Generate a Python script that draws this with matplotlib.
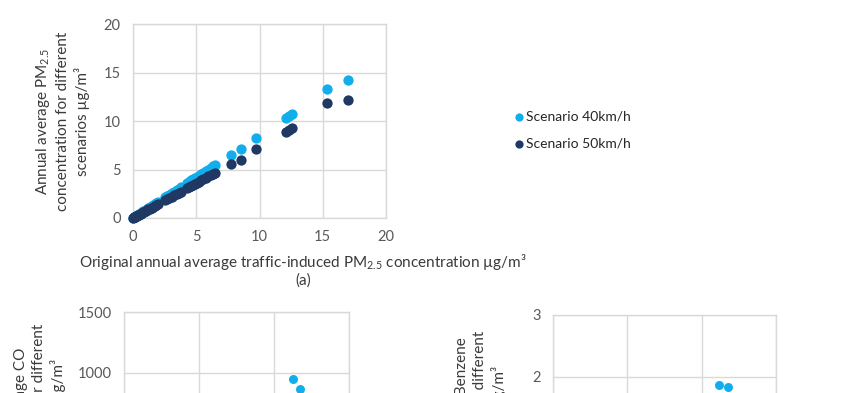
import matplotlib as mpl
import matplotlib.pyplot as plt

# panel (a): original traffic PM2.5 vs. the two speed scenarios (ug/m3)
orig_pm = [0.03, 0.08, 0.12, 0.18, 0.25, 0.32, 0.40, 0.48, 0.55, 0.63,
           0.72, 0.80, 0.90, 1.00, 1.10, 1.22, 1.35, 1.48, 1.60, 1.72,
           1.85, 1.98, 2.55, 2.70, 2.88, 3.05, 3.25, 3.45, 3.62, 3.78,
           4.30, 4.45, 4.60, 4.75, 4.90, 5.05, 5.20, 5.38, 5.55, 5.75,
           5.95, 6.15, 6.35, 6.48, 7.75, 8.54, 9.70, 12.10, 12.30, 12.54,
           15.31, 16.97]
pm_40 = [0.03, 0.07, 0.10, 0.15, 0.21, 0.27, 0.34, 0.40, 0.46, 0.53,
         0.61, 0.67, 0.76, 0.84, 0.92, 1.03, 1.13, 1.24, 1.35, 1.45,
         1.55, 1.66, 2.15, 2.27, 2.42, 2.56, 2.73, 2.90, 3.04, 3.18,
         3.61, 3.74, 3.87, 3.99, 4.12, 4.24, 4.37, 4.52, 4.66, 4.83,
         5.00, 5.17, 5.33, 5.43, 6.53, 7.11, 8.25, 10.28, 10.50, 10.69,
         13.33, 14.20]
pm_50 = [0.02, 0.06, 0.09, 0.13, 0.18, 0.23, 0.29, 0.35, 0.40, 0.45,
         0.52, 0.58, 0.65, 0.72, 0.79, 0.88, 0.97, 1.07, 1.15, 1.24,
         1.33, 1.43, 1.84, 1.94, 2.07, 2.20, 2.34, 2.48, 2.61, 2.72,
         3.10, 3.20, 3.31, 3.42, 3.53, 3.64, 3.74, 3.87, 4.00, 4.14,
         4.28, 4.43, 4.57, 4.60, 5.60, 5.98, 7.11, 8.90, 9.07, 9.24,
         11.90, 12.20]

# panels (b) and (c): only the top of each is visible in the crop
co_orig = [1127, 1173]
co_40 = [951, 869]
benz_orig = [2.23, 2.36]
benz_40 = [1.87, 1.84]

pm_ticks = [0, 5, 10, 15, 20]
co_ticks = [0, 500, 1000, 1500]
benz_ticks = [0, 1, 2, 3]

LIGHT = "#12AEEB"
DARK = "#1F3864"
GRID = "#D9D9D9"
TICK = "#595959"
TITLE = "#3A3A3A"

mpl.rcParams.update({
    "font.family": ["Lato", "DejaVu Sans"],
    "mathtext.fontset": "custom",
    "mathtext.rm": "Lato",
    "mathtext.default": "regular",
})


def excel_axes(ax, xticks, yticks, tick_size=10.5, show_x=True):
    ax.set_xlim(xticks[0], xticks[-1])
    ax.set_ylim(yticks[0], yticks[-1])
    ax.set_xticks(xticks)
    ax.set_yticks(yticks)
    ax.grid(True, color=GRID, lw=1.0)
    ax.set_axisbelow(True)
    for s in ax.spines.values():
        s.set_color(GRID)
        s.set_linewidth(1.0)
    ax.tick_params(length=0, labelsize=tick_size, colors=TICK, pad=9,
                   labelbottom=show_x)


fig = plt.figure(figsize=(8.5, 3.93), dpi=100)

# ---------------------------------------------------------------- (a)
ax = fig.add_axes([0.1565, 0.4453, 0.2976, 0.4936])
excel_axes(ax, pm_ticks, pm_ticks)
h40 = ax.scatter(orig_pm, pm_40, s=55, color=LIGHT, lw=0, zorder=3,
                 label="Scenario 40km/h", clip_on=False)
h50 = ax.scatter(orig_pm, pm_50, s=55, color=DARK, lw=0, zorder=4,
                 label="Scenario 50km/h", clip_on=False)

fig.text(62 / 850, 1 - 121 / 393,
         "Annual average PM$_{2.5}$\nconcentration for different\nscenarios µg/m³",
         rotation=90, ha="center", va="center", multialignment="center",
         fontsize=11, color=TITLE, linespacing=1.32)
fig.text(303 / 850, 1 - 262 / 393,
         "Original annual average traffic-induced PM$_{2.5}$ concentration µg/m³",
         ha="center", va="center", fontsize=11, color=TITLE)
fig.text(303 / 850, 1 - 281 / 393, "(a)", ha="center", va="center",
         fontsize=11, color=TITLE)

fig.legend(handles=[h40, h50], loc="center left",
           bbox_to_anchor=(501 / 850, 1 - 130 / 393), frameon=False,
           fontsize=10, handletextpad=0.1, handlelength=0.8,
           labelspacing=1.05, markerscale=0.8, labelcolor="#262626")

# ---------------------------------------------------------------- (b)
ax = fig.add_axes([124 / 850, (393 - 495) / 393, 225 / 850, 183 / 393])
excel_axes(ax, co_ticks, co_ticks, show_x=False)
ax.scatter(co_orig, co_40, s=42, color=LIGHT, lw=0, zorder=3)
fig.text(40 / 850, 1 - 413 / 393,
         "Annual average CO\nconcentration for different\nscenarios µg/m³",
         rotation=90, ha="center", va="center", multialignment="center",
         fontsize=11, color=TITLE, linespacing=1.32)

# ---------------------------------------------------------------- (c)
ax = fig.add_axes([553 / 850, (393 - 501) / 393, 223 / 850, 186 / 393])
excel_axes(ax, benz_ticks, benz_ticks, show_x=False)
ax.scatter(benz_orig, benz_40, s=42, color=LIGHT, lw=0, zorder=3)
fig.text(481 / 850, 1 - 420 / 393,
         "Annual average Benzene\nconcentration for different\nscenarios µg/m³",
         rotation=90, ha="center", va="center", multialignment="center",
         fontsize=11, color=TITLE, linespacing=1.32)

fig.savefig("out.png", dpi=100)
